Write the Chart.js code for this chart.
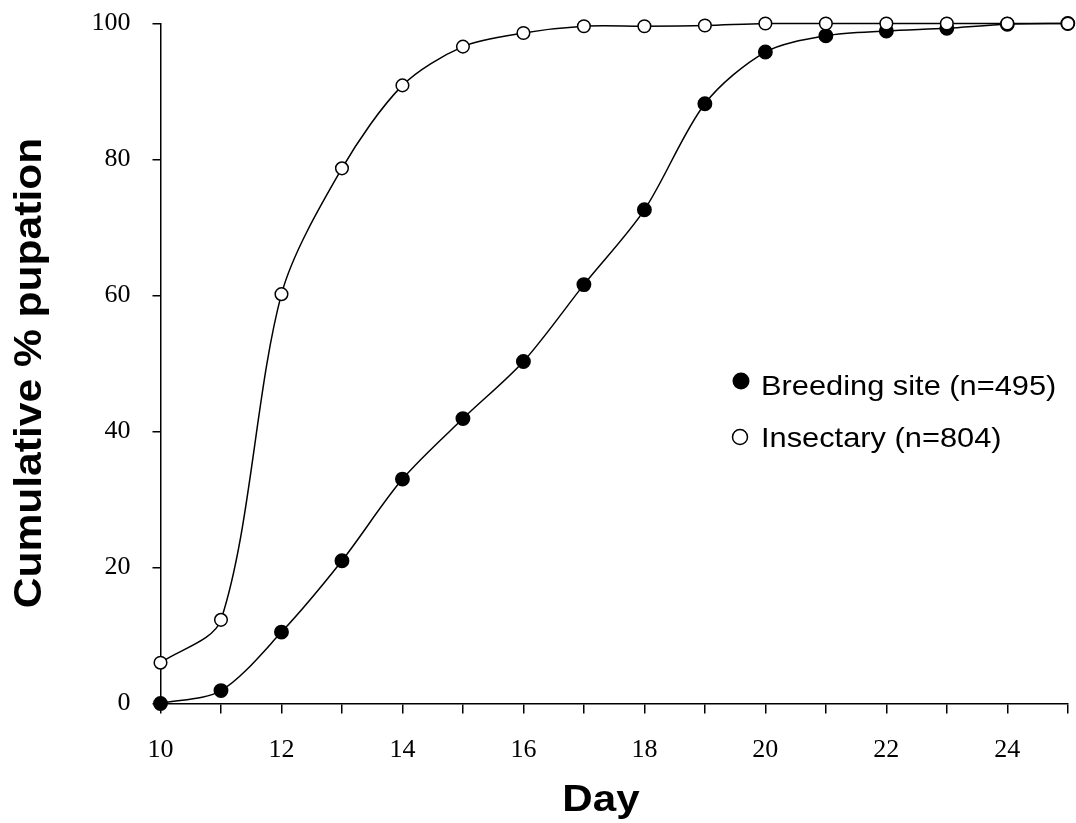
<!DOCTYPE html>
<html>
<head>
<meta charset="utf-8">
<script src="https://cdn.jsdelivr.net/npm/chart.js@4/dist/chart.umd.min.js"></script>
<style>
  html, body { margin: 0; padding: 0; background: white; }
  #wrap { width: 1076px; height: 823px; }
</style>
</head>
<body>
<div id="wrap"><canvas id="pupationChart"></canvas></div>
<script>
// days of observation
const days = [10, 11, 12, 13, 14, 15, 16, 17, 18, 19, 20, 21, 22, 23, 24, 25];
// cumulative % pupation
const breedingSite = [0, 1.9, 10.5, 21.0, 33.0, 41.9, 50.3, 61.6, 72.6, 88.2, 95.8, 98.2, 98.9, 99.3, 99.9, 100];
const insectary = [6.0, 12.3, 60.2, 78.7, 90.9, 96.6, 98.6, 99.6, 99.6, 99.7, 100, 100, 100, 100, 100, 100];
const xLabels = [10, 12, 14, 16, 18, 20, 22, 24];
const yTicks = [0, 20, 40, 60, 80, 100];
const legendLabels = ["Breeding site (n=495)", "Insectary (n=804)"];
const xTitle = "Day";
const yTitle = "Cumulative % pupation";

function toPoints(values) {
    return days.map((d, i) => ({ x: d, y: values[i] }));
}

// axis titles and legend are drawn by hand: the original text is a bit stretched
const figureText = {
    id: "figureText",
    afterDraw(chart) {
        const ctx = chart.ctx;
        const area = chart.chartArea;
        ctx.save();
        ctx.fillStyle = "black";
        ctx.strokeStyle = "black";

        // x title
        ctx.save();
        ctx.font = "bold 36px 'Liberation Sans', Arial, sans-serif";
        ctx.textAlign = "center";
        ctx.textBaseline = "alphabetic";
        ctx.translate(601, 811);
        ctx.scale(1.17, 1);
        ctx.fillText(xTitle, 0, 0);
        ctx.restore();

        // y title
        ctx.save();
        ctx.font = "bold 38px 'Liberation Sans', Arial, sans-serif";
        ctx.textAlign = "center";
        ctx.textBaseline = "alphabetic";
        ctx.translate(41, 373);
        ctx.rotate(-Math.PI / 2);
        ctx.scale(1.12, 1);
        ctx.fillText(yTitle, 0, 0);
        ctx.restore();

        // legend inside the plot
        const rows = [
            { cy: 381, base: 395, filled: true, text: legendLabels[0] },
            { cy: 437, base: 447, filled: false, text: legendLabels[1] }
        ];
        rows.forEach(r => {
            ctx.beginPath();
            if (r.filled) {
                ctx.arc(741, r.cy, 8.5, 0, Math.PI * 2);
                ctx.fill();
            } else {
                ctx.lineWidth = 1.5;
                ctx.arc(740, r.cy, 7.5, 0, Math.PI * 2);
                ctx.stroke();
            }
            ctx.save();
            ctx.font = "28px 'Liberation Sans', Arial, sans-serif";
            ctx.textAlign = "left";
            ctx.textBaseline = "alphabetic";
            ctx.translate(761, r.base);
            ctx.scale(1.1, 1);
            ctx.fillText(r.text, 0, 0);
            ctx.restore();
        });
        ctx.restore();
    }
};

const ctx = document.getElementById("pupationChart").getContext("2d");

new Chart(ctx, {
    type: "line",
    data: {
        datasets: [
            {
                label: legendLabels[1],
                data: toPoints(insectary),
                borderColor: "black",
                borderWidth: 1.5,
                backgroundColor: "white",
                pointBackgroundColor: "white",
                pointBorderColor: "black",
                pointBorderWidth: 1.5,
                pointRadius: 6.3,
                tension: 0.3,
                fill: false
            },
            {
                label: legendLabels[0],
                data: toPoints(breedingSite),
                borderColor: "black",
                borderWidth: 1.5,
                backgroundColor: "black",
                pointBackgroundColor: "black",
                pointBorderColor: "black",
                pointRadius: 6.7,
                tension: 0.3,
                fill: false
            }
        ]
    },
    options: {
        responsive: true,
        maintainAspectRatio: false,
        animation: false,
        clip: false,
        layout: {
            padding: { left: 0, right: 6, top: 23.5, bottom: 0 }
        },
        plugins: {
            legend: { display: false },
            tooltip: { enabled: false }
        },
        scales: {
            x: {
                type: "linear",
                min: 10,
                max: 25,
                afterFit(scale) {
                    scale.height = 119.5;
                    scale.paddingLeft = 0;
                    scale.paddingRight = 0;
                },
                afterBuildTicks(scale) {
                    scale.ticks = days.map(d => ({ value: d }));
                },
                ticks: {
                    autoSkip: false,
                    maxRotation: 0,
                    padding: 21,
                    color: "black",
                    font: { family: "'Liberation Serif', 'Times New Roman', serif", size: 26 },
                    callback: v => xLabels.includes(v) ? String(v) : ""
                },
                grid: {
                    drawOnChartArea: false,
                    drawTicks: true,
                    tickLength: 10,
                    color: "black",
                    lineWidth: 1.5
                },
                border: { display: true, color: "black", width: 1.5 }
            },
            y: {
                min: 0,
                max: 100,
                afterFit(scale) {
                    scale.width = 160.5;
                    scale.paddingTop = 0;
                    scale.paddingBottom = 0;
                },
                afterBuildTicks(scale) {
                    scale.ticks = yTicks.map(v => ({ value: v }));
                },
                ticks: {
                    padding: 22,
                    color: "black",
                    font: { family: "'Liberation Serif', 'Times New Roman', serif", size: 26 }
                },
                grid: {
                    drawOnChartArea: false,
                    drawTicks: true,
                    tickLength: 8,
                    color: "black",
                    lineWidth: 1.5
                },
                border: { display: true, color: "black", width: 1.5 }
            }
        }
    },
    plugins: [figureText]
});
</script>
</body>
</html>
